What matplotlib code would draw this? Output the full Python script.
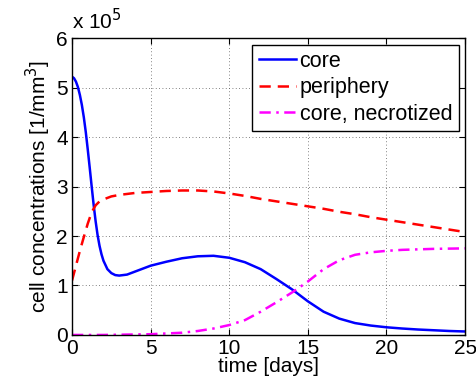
import matplotlib
matplotlib.use("Agg")
import matplotlib.pyplot as plt
from matplotlib.ticker import FuncFormatter

plt.rcParams['font.family'] = ['Liberation Sans', 'DejaVu Sans']

SCALE = 1e5

t_core = [0, 0.125, 0.25, 0.375, 0.5, 0.625, 0.75, 0.875, 1.0, 1.125, 1.25, 1.375, 1.5, 1.625,
          1.75, 1.875, 2.0, 2.25, 2.5, 2.75, 3.0, 3.5, 4, 4.5, 5,
          6, 7, 8, 9, 10, 11, 12, 13, 14, 15, 16, 17, 18, 19, 20, 21, 22, 23, 24, 25]
core = [5.22, 5.19, 5.12, 5.01, 4.85, 4.65, 4.4, 4.1, 3.75, 3.38, 3.0, 2.63, 2.3, 2.02,
        1.8, 1.63, 1.5, 1.33, 1.25, 1.21, 1.2, 1.22, 1.28, 1.34, 1.40,
        1.48, 1.55, 1.59, 1.60, 1.56, 1.47, 1.33, 1.13, 0.92, 0.68, 0.47, 0.33, 0.24, 0.19, 0.155,
        0.13, 0.11, 0.095, 0.08, 0.07]

t_peri = [0, 0.25, 0.5, 0.75, 1.0, 1.25, 1.5, 1.75, 2.0, 2.5, 3, 4, 5, 6, 7, 8, 9, 10, 11, 12,
          13, 14, 15, 16, 17, 18, 19, 20, 21, 22, 23, 24, 25]
periphery = [1.1, 1.4, 1.7, 1.98, 2.25, 2.48, 2.62, 2.7, 2.74, 2.8, 2.83, 2.87, 2.89, 2.91, 2.92,
             2.92, 2.9, 2.86, 2.81, 2.75, 2.7, 2.65, 2.6, 2.55, 2.49, 2.44, 2.38, 2.33, 2.28,
             2.23, 2.18, 2.13, 2.08]

t_necro = [0, 1, 2, 3, 4, 5, 6, 7, 8, 9, 10, 11, 12, 13, 14, 15, 16, 17, 18, 19, 20, 21, 22,
           23, 24, 25]
necrotized = [0, 0, 0, 0.005, 0.01, 0.015, 0.03, 0.045, 0.08, 0.13, 0.2, 0.3, 0.47, 0.66, 0.86,
              1.08, 1.33, 1.51, 1.62, 1.67, 1.70, 1.72, 1.73, 1.74, 1.745, 1.75]

labels = ["core", "periphery", "core, necrotized"]
xticks = [0, 5, 10, 15, 20, 25]
yticks = [0, 1, 2, 3, 4, 5, 6]

fig = plt.figure(figsize=(4.77, 3.85), dpi=100)
ax = fig.add_axes([0.151, 0.130, 0.824, 0.771])

ax.plot(t_core, [v * SCALE for v in core], color=(0, 0, 1), lw=1.8, label=labels[0])
ax.plot(t_peri, [v * SCALE for v in periphery], color=(1, 0, 0), lw=1.8,
        dashes=(4.5, 2.8), label=labels[1])
ax.plot(t_necro, [v * SCALE for v in necrotized], color=(1, 0, 1), lw=1.8,
        dashes=(4.5, 2.2, 1, 2.2), label=labels[2])

ax.set_xlim(0, 25)
ax.set_ylim(0, 6 * SCALE)
ax.set_xticks(xticks)
ax.set_yticks([v * SCALE for v in yticks])
ax.yaxis.set_major_formatter(FuncFormatter(lambda v, p: f"{v / SCALE:g}"))
ax.tick_params(direction='in', top=True, right=True, length=4, width=0.8,
               labelsize=15, pad=3)
ax.grid(True, color='0.35', linestyle=(0, (1, 3)), linewidth=0.6)
for s in ax.spines.values():
    s.set_linewidth(1.0)

ax.set_xlabel("time [days]", fontsize=15, labelpad=-1)
ax.set_ylabel("cell concentrations [1/mm$^3$]", fontsize=15, labelpad=2)
ax.text(0.0, 1.015, r"x 10$^5$", transform=ax.transAxes, fontsize=15,
        ha='left', va='bottom')

leg = ax.legend(loc='upper right', fontsize=15.5, handlelength=1.75, handletextpad=0.15,
                borderpad=0.3, labelspacing=0.25, fancybox=False, framealpha=1,
                edgecolor='black', borderaxespad=0.3)
leg.get_frame().set_linewidth(1.0)

fig.savefig("out.png", dpi=100)
